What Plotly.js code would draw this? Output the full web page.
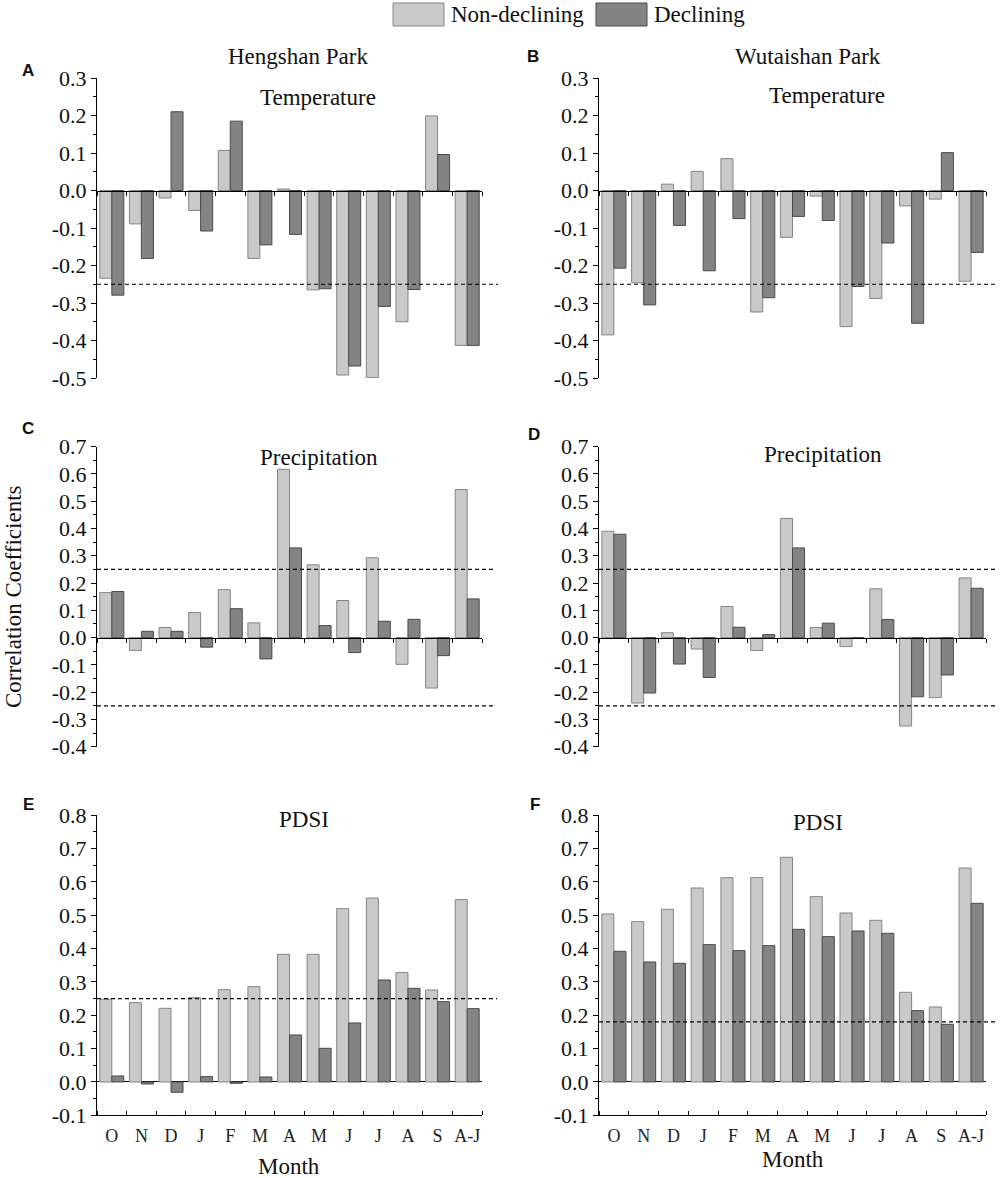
<!DOCTYPE html>
<html>
<head>
<meta charset="utf-8">
<script src="https://cdn.plot.ly/plotly-3.0.1.min.js"></script>
<style>
  html, body { margin: 0; padding: 0; background: #fff; }
  #chart { width: 1000px; height: 1178px; }
</style>
</head>
<body>
<div id="chart"></div>
<script>
// month labels (previous Oct .. current Sep, plus Apr-Jun season)
var MONTHS = ['O', 'N', 'D', 'J', 'F', 'M', 'A', 'M', 'J', 'J', 'A', 'S', 'A-J'];

// A: Hengshan temperature
var HENG_TEMP_NON = [-0.234, -0.089, -0.020, -0.053, 0.107, -0.181, 0.004, -0.265, -0.492, -0.499, -0.350, 0.199, -0.413];
var HENG_TEMP_DEC = [-0.279, -0.181, 0.210, -0.108, 0.185, -0.145, -0.117, -0.262, -0.468, -0.309, -0.264, 0.096, -0.413];
// B: Wutaishan temperature
var WUT_TEMP_NON = [-0.385, -0.246, 0.017, 0.051, 0.085, -0.324, -0.125, -0.015, -0.363, -0.288, -0.041, -0.023, -0.242];
var WUT_TEMP_DEC = [-0.207, -0.305, -0.093, -0.214, -0.075, -0.286, -0.069, -0.080, -0.256, -0.140, -0.354, 0.101, -0.165];
// C: Hengshan precipitation
var HENG_PREC_NON = [0.165, -0.047, 0.037, 0.092, 0.176, 0.054, 0.617, 0.267, 0.136, 0.293, -0.098, -0.185, 0.543];
var HENG_PREC_DEC = [0.169, 0.023, 0.023, -0.035, 0.106, -0.078, 0.329, 0.044, -0.055, 0.060, 0.067, -0.066, 0.142];
// D: Wutaishan precipitation
var WUT_PREC_NON = [0.390, -0.240, 0.018, -0.042, 0.114, -0.047, 0.437, 0.037, -0.033, 0.179, -0.324, -0.220, 0.219];
var WUT_PREC_DEC = [0.379, -0.203, -0.097, -0.146, 0.038, 0.011, 0.329, 0.053, -0.002, 0.066, -0.217, -0.137, 0.181];
// E: Hengshan PDSI
var HENG_PDSI_NON = [0.248, 0.238, 0.221, 0.253, 0.277, 0.286, 0.383, 0.383, 0.520, 0.552, 0.328, 0.276, 0.547];
var HENG_PDSI_DEC = [0.018, -0.006, -0.031, 0.016, -0.004, 0.015, 0.141, 0.101, 0.177, 0.306, 0.281, 0.241, 0.220];
// F: Wutaishan PDSI
var WUT_PDSI_NON = [0.504, 0.481, 0.518, 0.582, 0.613, 0.613, 0.674, 0.556, 0.507, 0.485, 0.269, 0.225, 0.642];
var WUT_PDSI_DEC = [0.392, 0.360, 0.356, 0.412, 0.394, 0.409, 0.458, 0.436, 0.453, 0.446, 0.214, 0.173, 0.536];

// significance levels (dashed lines)
var SIG_TEMP = [-0.25];
var SIG_PREC = [0.25, -0.25];
var SIG_PDSI_HENG = [0.25];
var SIG_PDSI_WUT = [0.18];

// y tick labels per row
var TICKS_TEMP = [-0.5, -0.4, -0.3, -0.2, -0.1, 0.0, 0.1, 0.2, 0.3];
var TICKS_PREC = [-0.4, -0.3, -0.2, -0.1, 0.0, 0.1, 0.2, 0.3, 0.4, 0.5, 0.6, 0.7];
var TICKS_PDSI = [-0.1, 0.0, 0.1, 0.2, 0.3, 0.4, 0.5, 0.6, 0.7, 0.8];

(function() {
  'use strict';
  var W = 1000, H = 1178;
  var SERIF = '"Liberation Serif", "Times New Roman", serif';
  var SANS = '"Liberation Sans", Arial, sans-serif';
  var LIGHT = '#c9c9c9', LIGHT_LINE = '#858585';
  var DARK = '#848484', DARK_LINE = '#4a4a4a';

  function px(x) { return x / W; }
  function py(y) { return 1 - y / H; }

  // pixel boxes of each panel: left, right, top, bottom
  var panels = [
    { non: HENG_TEMP_NON, dec: HENG_TEMP_DEC, sig: SIG_TEMP, ticks: TICKS_TEMP,
      box: [97, 482, 78, 378], lineEnd: 498, bottom: false },
    { non: WUT_TEMP_NON, dec: WUT_TEMP_DEC, sig: SIG_TEMP, ticks: TICKS_TEMP,
      box: [599, 986, 78, 378], lineEnd: 998, bottom: false },
    { non: HENG_PREC_NON, dec: HENG_PREC_DEC, sig: SIG_PREC, ticks: TICKS_PREC,
      box: [97, 482, 446.7, 746.7], lineEnd: 496, bottom: false },
    { non: WUT_PREC_NON, dec: WUT_PREC_DEC, sig: SIG_PREC, ticks: TICKS_PREC,
      box: [599, 986, 446.7, 746.7], lineEnd: 998, bottom: false },
    { non: HENG_PDSI_NON, dec: HENG_PDSI_DEC, sig: SIG_PDSI_HENG, ticks: TICKS_PDSI,
      box: [97, 482, 815.3, 1115.3], lineEnd: 497, bottom: true },
    { non: WUT_PDSI_NON, dec: WUT_PDSI_DEC, sig: SIG_PDSI_WUT, ticks: TICKS_PDSI,
      box: [599, 986, 815.3, 1115.3], lineEnd: 998, bottom: true }
  ];

  var xIdx = MONTHS.map(function(m, i) { return i; });
  var bounds = [];
  for (var b = 0; b <= MONTHS.length; b++) bounds.push(b - 0.5);

  var data = [];
  var layout = {
    width: W, height: H,
    paper_bgcolor: '#fff', plot_bgcolor: 'rgba(0,0,0,0)',
    margin: { l: 0, r: 0, t: 0, b: 0 },
    font: { family: SERIF, color: '#111', size: 22 },
    showlegend: false,
    barmode: 'group', bargap: 0.19, bargroupgap: 0,
    shapes: [], annotations: []
  };

  panels.forEach(function(p, i) {
    var n = i + 1;
    var xa = 'x' + (n === 1 ? '' : n), ya = 'y' + (n === 1 ? '' : n);
    var xKey = 'xaxis' + (n === 1 ? '' : n), yKey = 'yaxis' + (n === 1 ? '' : n);
    var r0 = p.ticks[0], r1 = p.ticks[p.ticks.length - 1];
    var xd = [px(p.box[0]), px(p.box[1])];
    var yd = [py(p.box[3]), py(p.box[2])];

    data.push({
      type: 'bar', x: xIdx, y: p.non, xaxis: xa, yaxis: ya, name: 'Non-declining',
      marker: { color: LIGHT, line: { color: LIGHT_LINE, width: 1 } }, hoverinfo: 'y'
    });
    data.push({
      type: 'bar', x: xIdx, y: p.dec, xaxis: xa, yaxis: ya, name: 'Declining',
      marker: { color: DARK, line: { color: DARK_LINE, width: 1 } }, hoverinfo: 'y'
    });

    var zeroPos = yd[0] + (0 - r0) / (r1 - r0) * (yd[1] - yd[0]);
    var xaxis = {
      domain: xd, range: [-0.5, MONTHS.length - 0.5], fixedrange: true,
      showgrid: false, zeroline: false, showline: true, linecolor: '#000', linewidth: 1,
      tickmode: 'array', tickvals: xIdx, ticktext: MONTHS,
      ticks: 'outside', ticklen: 0, tickcolor: '#000',
      minor: { tickmode: 'array', tickvals: bounds, ticks: p.bottom ? 'inside' : 'outside',
               ticklen: 4, tickcolor: '#000', tickwidth: 1, showgrid: false },
      showticklabels: p.bottom,
      tickfont: { family: SERIF, size: 18, color: '#222' },
      ticklabelstandoff: 4
    };
    if (p.bottom) {
      xaxis.anchor = ya;
    } else {
      xaxis.anchor = 'free';
      xaxis.position = zeroPos;
    }
    layout[xKey] = xaxis;

    layout[yKey] = {
      domain: yd, range: [r0, r1], anchor: xa, fixedrange: true,
      showgrid: false, zeroline: p.bottom, zerolinecolor: '#000', zerolinewidth: 1,
      showline: true, linecolor: '#000', linewidth: 1,
      tickmode: 'array', tickvals: p.ticks,
      ticktext: p.ticks.map(function(v) { return v.toFixed(1); }),
      ticks: 'outside', ticklen: 5, tickcolor: '#000',
      minor: { dtick: 0.05, tick0: 0, ticks: 'outside', ticklen: 3, tickcolor: '#000', showgrid: false },
      tickfont: { family: SERIF, size: 22, color: '#111' }
    };

    p.sig.forEach(function(s) {
      layout.shapes.push({
        type: 'line', xref: 'paper', yref: ya,
        x0: xd[0], x1: px(p.lineEnd), y0: s, y1: s,
        line: { color: '#000', width: 1.2, dash: '4px,3px' }
      });
    });
  });

  function note(text, x, y, opts) {
    opts = opts || {};
    layout.annotations.push({
      text: text, xref: 'paper', yref: 'paper', x: px(x), y: py(y),
      xanchor: opts.xanchor || 'center', yanchor: 'middle', showarrow: false,
      textangle: opts.angle || 0,
      font: { family: opts.family || SERIF, size: opts.size || 23, color: '#111' }
    });
  }

  // panel titles
  note('Hengshan Park', 298, 57);
  note('Temperature', 318, 97);
  note('Wutaishan Park', 808, 56);
  note('Temperature', 827, 96);
  note('Precipitation', 319, 457);
  note('Precipitation', 823, 455);
  note('PDSI', 304, 819);
  note('PDSI', 818, 822);

  // panel letters
  var letters = [['A', 28, 71], ['B', 533, 56], ['C', 28, 428], ['D', 534, 434], ['E', 28, 804], ['F', 535, 804]];
  letters.forEach(function(l) {
    note('<b>' + l[0] + '</b>', l[1], l[2], { family: SANS, size: 17 });
  });

  // axis titles
  note('Correlation Coefficients', 13, 597, { angle: -90 });
  note('Month', 289, 1166);
  note('Month', 793, 1159);

  // legend at top
  layout.shapes.push({
    type: 'rect', xref: 'paper', yref: 'paper', x0: px(393), x1: px(444), y0: py(26), y1: py(3),
    fillcolor: LIGHT, line: { color: LIGHT_LINE, width: 1 }
  });
  layout.shapes.push({
    type: 'rect', xref: 'paper', yref: 'paper', x0: px(596), x1: px(647), y0: py(26), y1: py(3),
    fillcolor: DARK, line: { color: DARK_LINE, width: 1 }
  });
  note('Non-declining', 449, 15, { xanchor: 'left' });
  note('Declining', 652, 15, { xanchor: 'left' });

  Plotly.newPlot('chart', data, layout, { displayModeBar: false, staticPlot: true });
})();
</script>
</body>
</html>
